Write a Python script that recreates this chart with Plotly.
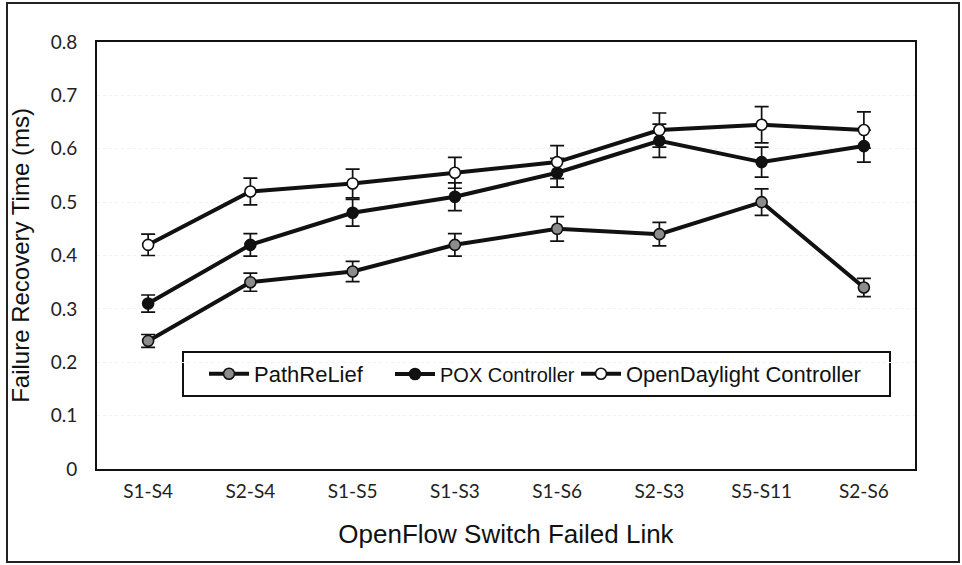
import plotly.graph_objects as go

# Failed link under test (x categories)
links = ["S1-S4", "S2-S4", "S1-S5", "S1-S3", "S1-S6", "S2-S3", "S5-S11", "S2-S6"]

# Mean failure recovery time (ms) and error-bar half-widths per controller
pathrelief = [0.24, 0.35, 0.37, 0.42, 0.45, 0.44, 0.50, 0.34]
pathrelief_err = [0.012, 0.017, 0.019, 0.021, 0.023, 0.022, 0.025, 0.017]

pox = [0.31, 0.42, 0.48, 0.51, 0.555, 0.615, 0.575, 0.605]
pox_err = [0.016, 0.021, 0.025, 0.026, 0.027, 0.031, 0.028, 0.030]

odl = [0.42, 0.52, 0.535, 0.555, 0.575, 0.635, 0.645, 0.635]
odl_err = [0.020, 0.025, 0.027, 0.029, 0.031, 0.032, 0.034, 0.034]

series_names = ["PathReLief", "POX Controller", "OpenDaylight Controller"]
y_ticks = [0, 0.1, 0.2, 0.3, 0.4, 0.5, 0.6, 0.7, 0.8]

W, H = 962, 565
L, R, T, B = 97, 47, 42, 96
PW, PH = W - L - R, H - T - B


def px_x(p):
    return (p - L) / PW


def px_y(p):
    return (H - B - p) / PH


# name, values, errors, marker fill, legend id, legend left (px), legend font size
series = [
    (series_names[0], pathrelief, pathrelief_err, "#8c8c8c", "legend", 204, 22),
    (series_names[1], pox, pox_err, "#111111", "legend2", 390, 20),
    (series_names[2], odl, odl_err, "#ffffff", "legend3", 576, 22),
]

fig = go.Figure()
legends = {}
for name, vals, errs, fill, leg, lx, fsize in series:
    fig.add_trace(go.Scatter(
        x=links, y=vals, name=name, mode="lines+markers",
        line=dict(color="#111111", width=4),
        marker=dict(size=11, color=fill, line=dict(color="#111111", width=1.6)),
        error_y=dict(type="data", array=errs, visible=True,
                     color="#111111", thickness=1.7, width=7),
        legend=leg,
    ))
    legends[leg] = dict(
        x=px_x(lx), xanchor="left", y=px_y(374), yanchor="middle",
        font=dict(family="Liberation Sans, Arial, sans-serif", size=fsize, color="#111111"),
        bgcolor="rgba(0,0,0,0)", borderwidth=0, itemwidth=40,
    )

fig.update_layout(
    width=W, height=H,
    margin=dict(l=L, r=R, t=T, b=B, autoexpand=False),
    paper_bgcolor="white", plot_bgcolor="white",
    showlegend=True,
    **legends,
    xaxis=dict(
        type="category", range=[-0.5, len(links) - 0.5],
        showline=True, linecolor="#111111", linewidth=2, mirror=True,
        ticks="", showgrid=False, ticklabelstandoff=4,
        tickfont=dict(family="Lato, Open Sans, sans-serif", size=19, color="#222222"),
        title=dict(text="OpenFlow Switch Failed Link", standoff=24,
                   font=dict(family="Liberation Sans, Arial, sans-serif", size=26, color="#111111")),
    ),
    yaxis=dict(
        range=[0, 0.8], tickvals=y_ticks,
        showline=True, linecolor="#111111", linewidth=2, mirror=True,
        ticks="", ticklabelstandoff=14,
        showgrid=True, gridcolor="#f1f1f1", griddash="dot", gridwidth=1,
        zeroline=False,
        tickfont=dict(family="Lato, Open Sans, sans-serif", size=19, color="#222222"),
        title=dict(text="Failure Recovery Time (ms)", standoff=14,
                   font=dict(family="Liberation Sans, Arial, sans-serif", size=24, color="#111111")),
    ),
    shapes=[
        # legend frame
        dict(type="rect", xref="paper", yref="paper", layer="below",
             x0=px_x(183), x1=px_x(890), y0=px_y(396), y1=px_y(352),
             line=dict(color="#111111", width=2), fillcolor="white"),
        # outer chart border
        dict(type="rect", xref="paper", yref="paper", layer="below",
             x0=px_x(7), x1=px_x(959), y0=px_y(562), y1=px_y(3),
             line=dict(color="#222222", width=2)),
    ],
)

fig.write_html("out.html")
